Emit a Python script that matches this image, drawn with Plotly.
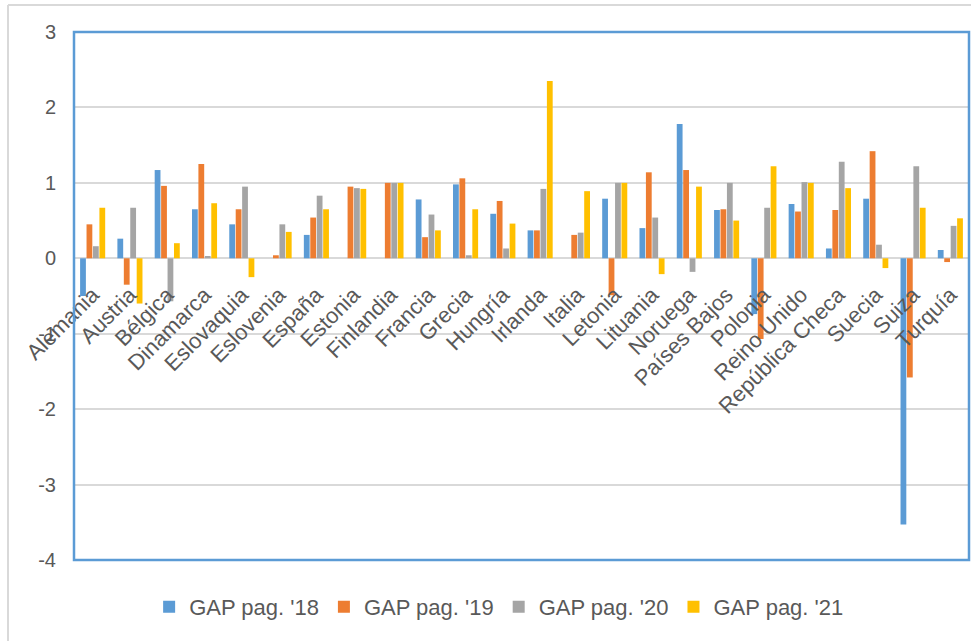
import plotly.graph_objects as go

# Countries on the category axis
paises = ["Alemania", "Austria", "Bélgica", "Dinamarca", "Eslovaquia", "Eslovenia",
          "España", "Estonia", "Finlandia", "Francia", "Grecia", "Hungría", "Irlanda",
          "Italia", "Letonia", "Lituania", "Noruega", "Países Bajos", "Polonia",
          "Reino Unido", "República Checa", "Suecia", "Suiza", "Turquía"]

# GAP values per year
gap_18 = [-0.50, 0.26, 1.17, 0.65, 0.45, None, 0.31, None, None, 0.78, 0.98, 0.59,
          0.37, None, 0.79, 0.40, 1.78, 0.64, -0.74, 0.72, 0.13, 0.79, -3.53, 0.11]
gap_19 = [0.45, -0.35, 0.96, 1.25, 0.65, 0.04, 0.54, 0.95, 1.00, 0.28, 1.06, 0.76,
          0.37, 0.31, -0.49, 1.14, 1.17, 0.65, -1.07, 0.62, 0.64, 1.42, -1.58, -0.05]
gap_20 = [0.16, 0.67, -0.57, 0.03, 0.95, 0.45, 0.83, 0.93, 1.00, 0.58, 0.04, 0.13,
          0.92, 0.34, 1.00, 0.54, -0.18, 1.00, 0.67, 1.01, 1.28, 0.18, 1.22, 0.43]
gap_21 = [0.67, -0.60, 0.20, 0.73, -0.25, 0.35, 0.65, 0.92, 1.00, 0.37, 0.65, 0.46,
          2.35, 0.89, 1.00, -0.21, 0.95, 0.50, 1.22, 1.00, 0.93, -0.13, 0.67, 0.53]

series = [("GAP pag. '18", gap_18, "#5B9BD5"),
          ("GAP pag. '19", gap_19, "#ED7D31"),
          ("GAP pag. '20", gap_20, "#A5A5A5"),
          ("GAP pag. '21", gap_21, "#FFC000")]

y_ticks = [3, 2, 1, 0, -1, -2, -3, -4]
y_tick_text = ["3", "2", "1", "0", "-1", "-2", "-3", "-4"]
y_min, y_max = -4, 3

fig = go.Figure()
for nombre, valores, color in series:
    fig.add_trace(go.Bar(x=paises, y=valores, name=nombre,
                         marker=dict(color=color, line=dict(width=0))))

font_fam = "Liberation Sans, Arial, sans-serif"
txt_col = "#595959"

fig.update_layout(
    width=971, height=641,
    margin=dict(l=74, r=2, t=32, b=81),
    paper_bgcolor="white", plot_bgcolor="white",
    barmode="group", bargap=0.31, bargroupgap=0.1,
    font=dict(family=font_fam, color=txt_col),
    showlegend=True,
    legend=dict(orientation="h", x=0.475, xanchor="center", y=-0.089, yanchor="middle",
                font=dict(size=22, color=txt_col, family=font_fam),
                itemwidth=30, traceorder="normal"),
    xaxis=dict(anchor="free", position=(0 - y_min) / (y_max - y_min),
               tickangle=-45, showgrid=False, showline=False,
               ticks="outside", ticklen=14, tickcolor="rgba(0,0,0,0)",
               tickfont=dict(size=22, color=txt_col),
               range=[-0.5, len(paises) - 0.5]),
    yaxis=dict(range=[y_min, y_max], tickvals=y_ticks, ticktext=y_tick_text,
               showgrid=True, gridcolor="#D9D9D9", gridwidth=2, zeroline=True,
               zerolinecolor="#D9D9D9", zerolinewidth=2, showline=False,
               tickfont=dict(size=20, color=txt_col), ticklabelstandoff=17),
    shapes=[
        # blue frame around the plot area
        dict(type="rect", xref="paper", yref="paper", x0=0, x1=1, y0=0, y1=1,
             line=dict(color="#5B9BD5", width=2.5), layer="above"),
        # light outer chart border (left and top)
        dict(type="line", xref="paper", yref="paper", x0=-66 / 895, x1=-66 / 895,
             y0=-90 / 528, y1=1 + 27 / 528, line=dict(color="#D9D9D9", width=2)),
        dict(type="line", xref="paper", yref="paper", x0=-66 / 895, x1=1.01,
             y0=1 + 27 / 528, y1=1 + 27 / 528, line=dict(color="#D9D9D9", width=2)),
    ],
)

fig.write_html("out.html")
